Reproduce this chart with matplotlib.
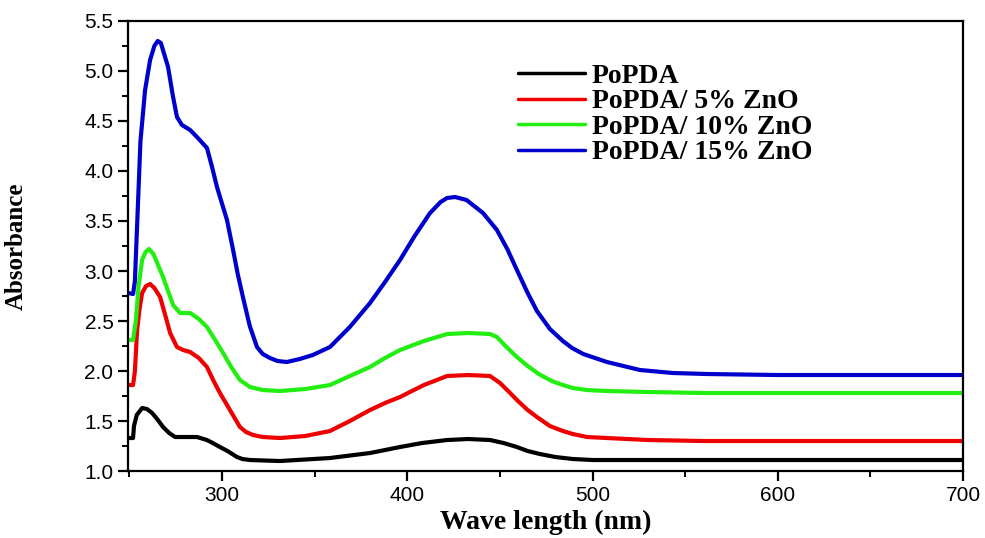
import matplotlib
matplotlib.use("Agg")
import matplotlib.pyplot as plt
from matplotlib.ticker import MultipleLocator, FormatStrFormatter

# wavelength (nm) and absorbance
wl_blue = [249.3, 252, 253, 254.5, 256, 258.5, 261.2, 263.5, 265.3, 267, 270.9, 273.5,
           275.7, 278.4, 282.8, 287, 291.9, 294.5, 297.3, 302.7, 306, 308.5, 311.3, 315,
           318.9, 322, 325.9, 330, 335, 342, 349, 358.3, 369, 379.9, 388, 396.1, 404,
           412.3, 418, 421.5, 425.8, 432, 440.9, 448.4, 454, 459.2, 465, 470, 477, 484,
           489, 495, 507.8, 525.6, 543.4, 561.7, 600, 700]
ab_blue = [2.78, 2.77, 2.9, 3.6, 4.3, 4.81, 5.11, 5.25, 5.30, 5.28, 5.04, 4.75,
           4.54, 4.46, 4.41, 4.33, 4.23, 4.05, 3.84, 3.51, 3.21, 2.97, 2.74, 2.45,
           2.24, 2.17, 2.13, 2.10, 2.09, 2.12, 2.16, 2.24, 2.44, 2.68, 2.89, 3.11, 3.35,
           3.58, 3.69, 3.73, 3.74, 3.71, 3.58, 3.41, 3.22, 3.01, 2.78, 2.60, 2.42, 2.30,
           2.23, 2.17, 2.09, 2.01, 1.98, 1.97, 1.96, 1.96]

wl_green = [249.3, 252, 253.5, 255, 256.9, 258.8, 260.6, 263, 268.2, 273.6, 277.4,
            282.8, 287.5, 291.9, 296, 300.6, 305, 309.7, 315.1, 322, 331.3, 345, 358.3,
            369, 379.9, 388, 396.1, 409, 421.5, 433, 444.7, 448.4, 453, 459.2, 465, 471,
            478, 484, 489.4, 497, 507.8, 530, 560, 700]
ab_green = [2.31, 2.31, 2.5, 2.85, 3.11, 3.19, 3.22, 3.17, 2.94, 2.66, 2.58,
            2.58, 2.52, 2.44, 2.32, 2.18, 2.04, 1.91, 1.84, 1.81, 1.80, 1.82, 1.86,
            1.95, 2.04, 2.13, 2.21, 2.30, 2.37, 2.38, 2.37, 2.34, 2.25, 2.14, 2.05, 1.97,
            1.90, 1.86, 1.83, 1.81, 1.80, 1.79, 1.78, 1.78]

wl_red = [249.3, 252, 253, 254.2, 255.5, 256.9, 259, 261.2, 263.5, 266.6, 269.5, 272,
          275.7, 279, 282.8, 287.5, 291.9, 295.5, 298.9, 304.3, 309.7, 313, 316.8, 322,
          331.3, 345, 358.3, 369, 379.9, 388, 396.1, 409, 421.5, 433, 444.7, 450.1, 455,
          459.2, 465, 470, 477, 484, 489.4, 497, 507.8, 530, 560, 700]
ab_red = [1.86, 1.86, 2.0, 2.41, 2.62, 2.78, 2.85, 2.87, 2.83, 2.74, 2.55, 2.38,
          2.24, 2.21, 2.19, 2.13, 2.04, 1.90, 1.78, 1.61, 1.44, 1.39, 1.36, 1.34,
          1.33, 1.35, 1.40, 1.50, 1.61, 1.68, 1.74, 1.86, 1.95, 1.96, 1.95, 1.88, 1.79,
          1.71, 1.61, 1.54, 1.45, 1.40, 1.37, 1.34, 1.33, 1.31, 1.30, 1.30]

wl_black = [249.3, 252, 252.5, 254, 256.9, 259.5, 262.3, 265, 268.2, 271.5, 274.7, 280,
            286.5, 291.9, 295, 298.9, 303, 308.1, 311, 315.1, 331.3, 358.3, 379.9, 396.1,
            408, 421.5, 433, 444.7, 452, 459.2, 465, 471.6, 480, 489.4, 500, 700]
ab_black = [1.33, 1.33, 1.45, 1.56, 1.63, 1.62, 1.58, 1.52, 1.44, 1.38, 1.34, 1.34,
            1.34, 1.31, 1.28, 1.24, 1.20, 1.14, 1.12, 1.11, 1.10, 1.13, 1.18, 1.24,
            1.28, 1.31, 1.32, 1.31, 1.28, 1.24, 1.20, 1.17, 1.14, 1.12, 1.11, 1.11]

labels = ["PoPDA", "PoPDA/ 5% ZnO", "PoPDA/ 10% ZnO", "PoPDA/ 15% ZnO"]

fig = plt.figure(figsize=(9.85, 5.38), dpi=100)
ax = fig.add_axes([0.13, 0.1245, 0.8477, 0.8365])

kw = dict(lw=3, solid_joinstyle="round", solid_capstyle="round")
ax.plot(wl_black, ab_black, color="black", label=labels[0], **kw)
ax.plot(wl_red, ab_red, color="#ee0000", label=labels[1], **kw)
ax.plot(wl_green, ab_green, color="#22ee11", label=labels[2], **kw)
ax.plot(wl_blue, ab_blue, color="#0000cc", label=labels[3], **kw)

ax.set_xlim(249.3, 700)
ax.set_ylim(1.0, 5.5)
ax.set_xticks([300, 400, 500, 600, 700])
ax.xaxis.set_minor_locator(MultipleLocator(50))
ax.yaxis.set_major_locator(MultipleLocator(0.5))
ax.yaxis.set_minor_locator(MultipleLocator(0.25))
ax.yaxis.set_major_formatter(FormatStrFormatter("%.1f"))

for s in ax.spines.values():
    s.set_linewidth(1.6)
ax.tick_params(which="major", direction="out", length=7, width=1.6,
               labelsize=15, top=False, right=False)
ax.tick_params(which="minor", direction="out", length=4, width=1.4,
               top=False, right=False)
for t in ax.get_xticklabels() + ax.get_yticklabels():
    t.set_fontfamily("Liberation Sans")

serif = {"family": "Liberation Serif", "weight": "bold"}
ax.set_xlabel("Wave length (nm)", fontdict=serif, fontsize=20)
ax.set_ylabel("Absorbance", fontdict=serif, fontsize=18)
ax.xaxis.set_label_coords(0.5006, -0.086)
ax.yaxis.set_label_coords(-0.12, 0.5)

leg = ax.legend(loc="upper left", bbox_to_anchor=(0.454, 0.93), frameon=False,
                prop={"family": "Liberation Serif", "weight": "bold", "size": 20},
                handlelength=2.4, handletextpad=0.25, labelspacing=0.0,
                borderaxespad=0)
for h in leg.get_lines():
    h.set_linewidth(2.5)

fig.savefig("out.png", dpi=100)
